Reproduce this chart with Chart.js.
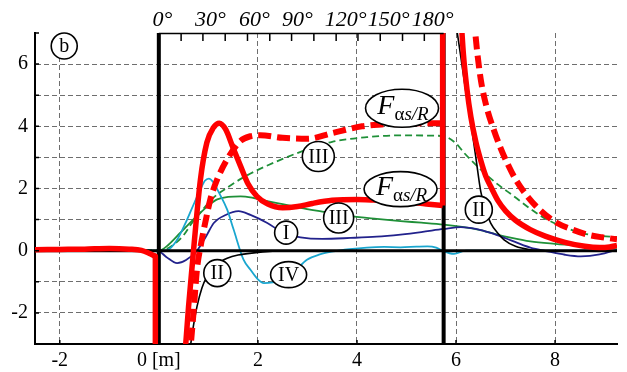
<!DOCTYPE html>
<html>
<head>
<meta charset="utf-8">
<script src="https://cdn.jsdelivr.net/npm/chart.js@4.4.1/dist/chart.umd.min.js"></script>
<style>
  html, body { margin: 0; padding: 0; background: #fff; }
  #wrap { width: 627px; height: 372px; }
</style>
</head>
<body>
<div id="wrap"><canvas id="chart" width="627" height="372"></canvas></div>
<script>
// values, x in [m]
const xTickVals = [-2, 0, 2, 4, 6, 8];
const degLabels = ['0°', '30°', '60°', '90°', '120°', '150°', '180°'];
const degPos = [0.07, 1.04, 1.93, 2.8, 3.77, 4.64, 5.53];
const topTickPos = [0.45, 0.89, 1.34, 1.79, 2.24, 2.68, 3.13, 3.58, 4.02, 4.47, 4.92, 5.36];

// F alpha s/R, solid red
const fsLeftX = [-2.5, -2, -1.5, -1, -0.6, -0.35, -0.2, -0.07];
const fsLeftY = [0.03, 0.04, 0.05, 0.07, 0.05, 0.01, -0.08, -0.18];
const fsDropX = [-0.07, -0.07];
const fsDropY = [-0.18, -3.5];
const fsMidX = [0.52, 0.6, 0.7, 0.84, 0.97, 1.1, 1.22, 1.35, 1.5, 1.65, 1.8, 1.98, 2.2, 2.5, 2.8, 3.1, 3.5, 4.0, 4.5, 5.0, 5.4, 5.73];
const fsMidY = [-3.5, -1.8, 0, 2.29, 3.48, 3.95, 4.1, 3.9, 3.3, 2.72, 2.15, 1.75, 1.5, 1.38, 1.42, 1.52, 1.62, 1.65, 1.62, 1.57, 1.5, 1.45];
const fsJumpX = [5.73, 5.73];
const fsJumpY = [1.45, 7.5];
const fsRightX = [6.1, 6.15, 6.22, 6.3, 6.4, 6.5, 6.6, 6.72, 6.85, 7.0, 7.2, 7.5, 7.8, 8.2, 8.6, 8.9, 9.1, 9.25];
const fsRightY = [7.5, 6.3, 5.2, 4.3, 3.5, 2.9, 2.4, 2.0, 1.6, 1.28, 0.98, 0.68, 0.47, 0.27, 0.14, 0.1, 0.12, 0.17];

// F alpha s/R, dashed red
const fdMidX = [0.62, 0.7, 0.77, 0.85, 0.95, 1.04, 1.18, 1.38, 1.65, 1.85, 2.05, 2.5, 3.0, 3.5, 4.1, 4.5, 5.0, 5.4, 5.73];
const fdMidY = [-3.5, -2.0, -0.6, 0.2, 1.0, 1.65, 2.3, 2.94, 3.53, 3.68, 3.71, 3.63, 3.6, 3.78, 4.0, 4.06, 4.1, 4.1, 4.1];
const fdRightX = [6.36, 6.42, 6.5, 6.62, 6.76, 6.9, 7.03, 7.2, 7.44, 7.7, 8.04, 8.35, 8.65, 8.95, 9.25];
const fdRightY = [7.5, 6.5, 5.5, 4.6, 3.9, 3.3, 2.83, 2.3, 1.75, 1.3, 0.89, 0.68, 0.52, 0.43, 0.37];

// III dashed green
const g3dX = [-2.5, -1.5, -0.5, 0, 0.1, 0.3, 0.5, 0.65, 0.8, 1.1, 1.4, 1.7, 2.0, 2.5, 2.9, 3.5, 4.2, 4.9, 5.5, 5.75, 6.0, 6.16, 6.5, 6.83, 7.17, 7.5, 7.84, 8.2, 8.52, 8.9, 9.25];
const g3dY = [0.02, 0.02, 0.02, 0.02, 0.03, 0.2, 0.5, 0.85, 1.15, 1.7, 2.05, 2.35, 2.6, 2.95, 3.2, 3.5, 3.65, 3.71, 3.7, 3.68, 3.45, 3.15, 2.61, 2.15, 1.75, 1.35, 1.0, 0.75, 0.57, 0.48, 0.44];

// III solid green
const g3X = [-2.5, -0.5, 0, 0.2, 0.43, 0.6, 0.84, 1.0, 1.18, 1.4, 1.65, 1.9, 2.19, 2.5, 2.86, 3.3, 3.87, 4.4, 4.88, 5.3, 5.75, 6.16, 6.45, 6.83, 7.1, 7.5, 8.0, 8.5, 9.0, 9.25];
const g3Y = [0, 0, 0, 0.2, 0.57, 0.85, 1.22, 1.45, 1.65, 1.73, 1.75, 1.7, 1.59, 1.5, 1.38, 1.26, 1.11, 1.02, 0.95, 0.9, 0.84, 0.76, 0.68, 0.52, 0.42, 0.3, 0.22, 0.16, 0.11, 0.09];

// I navy
const c1X = [-2.5, -0.3, 0, 0.15, 0.37, 0.55, 0.77, 0.95, 1.11, 1.35, 1.61, 1.85, 2.19, 2.52, 2.86, 3.3, 3.87, 4.4, 4.88, 5.3, 5.75, 6.1, 6.4, 6.7, 7.0, 7.24, 7.5, 7.84, 8.2, 8.52, 8.9, 9.25];
const c1Y = [0, 0, -0.02, -0.2, -0.4, -0.3, 0, 0.45, 0.89, 1.15, 1.27, 1.15, 0.89, 0.57, 0.43, 0.38, 0.41, 0.45, 0.52, 0.6, 0.7, 0.76, 0.7, 0.57, 0.4, 0.25, 0.1, -0.02, -0.13, -0.18, -0.12, 0.03];

// IV cyan
const c4X = [-2.5, 0, 0.17, 0.35, 0.57, 0.72, 0.84, 0.93, 1.01, 1.1, 1.22, 1.38, 1.51, 1.71, 1.85, 2.0, 2.12, 2.3, 2.52, 2.75, 2.99, 3.25, 3.53, 3.85, 4.2, 4.55, 4.88, 5.2, 5.42, 5.6, 5.75, 5.96, 6.2, 9.25];
const c4Y = [0, 0, 0.02, 0.3, 1.0, 1.55, 1.97, 2.25, 2.32, 2.2, 1.85, 1.32, 0.68, -0.29, -0.61, -0.92, -1.04, -1.02, -0.94, -0.65, -0.29, -0.12, -0.02, 0.05, 0.1, 0.12, 0.11, 0.13, 0.14, 0.1, -0.02, -0.1, 0, 0];

// II black
const c2LeftX = [0.6, 0.7, 0.77, 0.87, 0.97, 1.1, 1.25, 1.38, 1.6, 1.92, 2.3, 2.6];
const c2LeftY = [-3.5, -2.4, -1.8, -1.2, -0.83, -0.55, -0.35, -0.24, -0.14, -0.07, -0.02, 0];
const c2RightX = [5.98, 6.1, 6.2, 6.3, 6.4, 6.5, 6.6, 6.7, 6.85, 6.97, 7.2, 7.5, 7.8];
const c2RightY = [7.5, 6.2, 5.1, 4.1, 3.0, 1.9, 1.3, 0.89, 0.55, 0.35, 0.14, 0.03, 0];

// heavy reference lines
const zeroX = [-2.5, 9.25];
const zeroY = [0, 0];
const startX = [0, 0];
const endX = [5.75, 5.75];
const fullY = [-3, 7];

// circled labels
const labelText = ['b', 'III', 'F', 'F', 'III', 'I', 'II', 'IV', 'II'];
const labelX = [-1.91, 3.22, 4.91, 4.88, 3.63, 2.57, 1.18, 2.62, 6.46];
const labelY = [6.58, 3.03, 4.58, 1.98, 1.05, 0.58, -0.72, -0.77, 1.32];

const pts = (xs, ys) => xs.map((x, i) => ({ x: x, y: ys[i] }));

const RED = '#ff0000';
const GREEN = '#1f9038';
const NAVY = '#22228c';
const CYAN = '#19a6cf';
const GRID = '#6e6e6e';

function line(xs, ys, color, width, dash, tension) {
    return {
        data: pts(xs, ys),
        borderColor: color,
        borderWidth: width,
        borderDash: dash || [],
        pointRadius: 0,
        fill: false,
        cubicInterpolationMode: tension ? 'monotone' : 'default',
        tension: 0,
        borderCapStyle: 'butt',
        borderJoinStyle: 'round'
    };
}

const serif = '"Liberation Serif", "DejaVu Serif", serif';

// sizes of the ellipses round each label (px)
const labelRx = [13, 16, 36.5, 36.5, 15, 11.5, 13.5, 18, 13.5];
const labelRy = [13, 15, 19, 17.5, 15, 11.5, 13.5, 13, 13.5];

const decoPlugin = {
    id: 'deco',
    afterDatasetsDraw(chart) {
        const ctx = chart.ctx;
        const xs = chart.scales.x, ys = chart.scales.y;
        const area = chart.chartArea;
        ctx.save();
        // top axis line from 0 to 180 deg, with inward ticks
        ctx.strokeStyle = '#000';
        ctx.lineWidth = 1.5;
        ctx.beginPath();
        ctx.moveTo(xs.getPixelForValue(0), area.top + 0.5);
        ctx.lineTo(xs.getPixelForValue(5.75), area.top + 0.5);
        topTickPos.forEach(v => {
            const p = xs.getPixelForValue(v);
            ctx.moveTo(p, area.top);
            ctx.lineTo(p, area.top + 8);
        });
        // inward ticks on left and bottom axes
        for (let v = -3; v <= 7; v++) {
            const p = ys.getPixelForValue(v);
            ctx.moveTo(area.left, p);
            ctx.lineTo(area.left + 4, p);
        }
        xTickVals.forEach(v => {
            const p = xs.getPixelForValue(v);
            ctx.moveTo(p, area.bottom);
            ctx.lineTo(p, area.bottom - 4);
        });
        ctx.stroke();

        // labels
        labelText.forEach((t, i) => {
            const cx = xs.getPixelForValue(labelX[i]);
            const cy = ys.getPixelForValue(labelY[i]);
            ctx.beginPath();
            ctx.ellipse(cx, cy, labelRx[i], labelRy[i], 0, 0, Math.PI * 2);
            ctx.fillStyle = '#fff';
            ctx.fill();
            ctx.lineWidth = 1.6;
            ctx.strokeStyle = '#000';
            ctx.stroke();
            ctx.fillStyle = '#000';
            if (t === 'F') {
                ctx.textBaseline = 'alphabetic';
                ctx.textAlign = 'left';
                const fF = 'italic 28px ' + serif;
                const fA = '19px ' + serif;
                const fS = 'italic 19px ' + serif;
                ctx.font = fF; const wF = ctx.measureText('F').width;
                ctx.font = fA; const wA = ctx.measureText('α').width;
                ctx.font = fS; const wS = ctx.measureText('s/R').width;
                let x0 = cx - (wF + wA + wS) / 2 + 1;
                ctx.font = fF; ctx.fillText('F', x0, cy + 6);
                x0 += wF;
                ctx.font = fA; ctx.fillText('α', x0, cy + 12);
                x0 += wA;
                ctx.font = fS; ctx.fillText('s/R', x0, cy + 12);
            } else {
                ctx.font = '20px ' + serif;
                ctx.textAlign = 'center';
                ctx.textBaseline = 'middle';
                ctx.fillText(t, cx, cy + 1);
            }
        });
        ctx.restore();
    }
};

new Chart(document.getElementById('chart'), {
    type: 'line',
    data: {
        datasets: [
            line(fdMidX, fdMidY, RED, 6, [13, 6], true),
            line(fdRightX, fdRightY, RED, 6, [13, 6], true),
            line(fsLeftX, fsLeftY, RED, 5.5, null, true),
            line(fsDropX, fsDropY, RED, 5.5, null, false),
            line(fsMidX, fsMidY, RED, 5.5, null, true),
            line(fsJumpX, fsJumpY, RED, 5.5, null, false),
            line(fsRightX, fsRightY, RED, 5.5, null, true),
            line(startX, fullY, '#000', 4, null, false),
            line(endX, fullY, '#000', 4, null, false),
            line(zeroX, zeroY, '#000', 3, null, false),
            line(c2LeftX, c2LeftY, '#000', 1.6, null, true),
            line(c2RightX, c2RightY, '#000', 1.6, null, true),
            line(c4X, c4Y, CYAN, 1.8, null, true),
            line(c1X, c1Y, NAVY, 1.8, null, true),
            line(g3X, g3Y, GREEN, 1.8, null, true),
            line(g3dX, g3dY, GREEN, 1.8, [7, 4], true)
        ]
    },
    options: {
        responsive: false,
        animation: false,
        devicePixelRatio: 1,
        layout: { padding: { left: 0, right: 10, top: 0, bottom: 0 } },
        plugins: { legend: { display: false }, tooltip: { enabled: false } },
        scales: {
            x: {
                type: 'linear',
                position: 'bottom',
                min: -2.5,
                max: 9.25,
                afterBuildTicks: s => { s.ticks = xTickVals.map(v => ({ value: v })); },
                afterFit: s => { s.height = 28; },
                ticks: {
                    autoSkip: false,
                    maxRotation: 0,
                    padding: 5,
                    color: '#000',
                    font: { family: serif, size: 20 },
                    callback: v => v === 0 ? '0 [m]' : String(v)
                },
                grid: {
                    drawTicks: false,
                    color: c => c.tick && c.tick.value === 0 ? 'rgba(0,0,0,0)' : GRID,
                    lineWidth: 1
                },
                border: { display: true, color: '#000', width: 2, dash: [5, 3] }
            },
            xTop: {
                type: 'linear',
                position: 'top',
                min: -2.5,
                max: 9.25,
                afterBuildTicks: s => { s.ticks = degPos.map(v => ({ value: v })); },
                afterFit: s => { s.height = 33; },
                ticks: {
                    autoSkip: false,
                    maxRotation: 0,
                    padding: 0,
                    color: '#000',
                    font: { family: serif, size: 22, style: 'italic' },
                    callback: (v, i) => degLabels[i]
                },
                grid: { display: false, drawTicks: false },
                border: { display: false }
            },
            y: {
                type: 'linear',
                min: -3,
                max: 7,
                afterFit: s => { s.width = 35; },
                ticks: {
                    stepSize: 1,
                    padding: 7,
                    color: '#000',
                    font: { family: serif, size: 20 },
                    callback: v => (v % 2 === 0 ? String(v) : '')
                },
                grid: {
                    drawTicks: false,
                    color: c => (c.tick && (c.tick.value === 7 || c.tick.value === -3)) ? 'rgba(0,0,0,0)' : GRID,
                    lineWidth: 1
                },
                border: { display: true, color: '#000', width: 2, dash: [5, 3] }
            }
        }
    },
    plugins: [decoPlugin]
});
</script>
</body>
</html>
